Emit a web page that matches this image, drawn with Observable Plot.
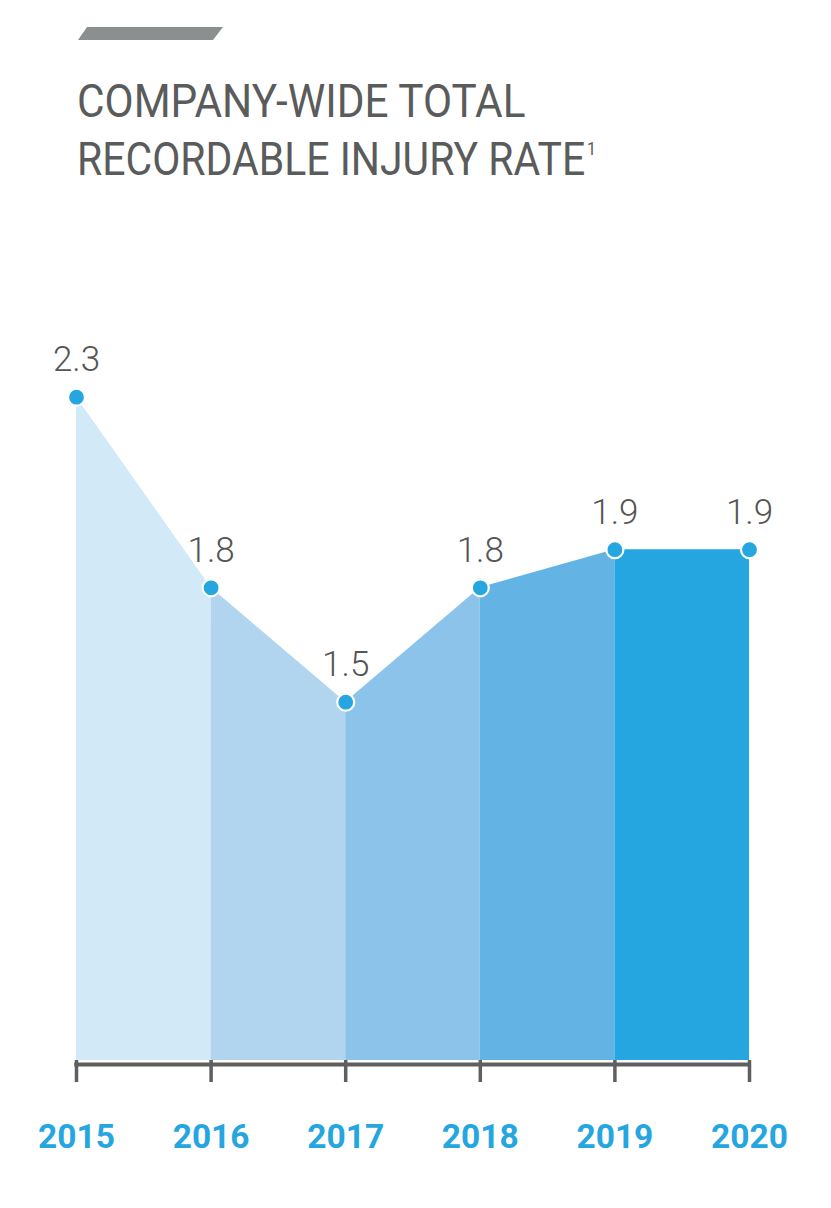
<!DOCTYPE html>
<html>
<head>
<meta charset="utf-8">
<script src="https://cdn.jsdelivr.net/npm/d3@7"></script>
<script src="https://cdn.jsdelivr.net/npm/@observablehq/plot@0.6"></script>
<style>
  html, body { margin: 0; padding: 0; background: #fff; }
  #page { width: 831px; position: relative; }
  #head { position: relative; height: 200px; }
  #bar { position: absolute; left: 78px; top: 27px; width: 145px; height: 13px; background: #8c8f8f;
         clip-path: polygon(9px 0, 145px 0, 135px 13px, 0 13px); }
  .tl { position: absolute; left: 77px; font-family: Roboto, sans-serif; font-size: 46px; color: #5a5b5b;
        white-space: nowrap; transform-origin: 0 0; transform: scaleX(0.9); line-height: 1; }
  .tl sup { font-size: 18px; vertical-align: 20px; margin-left: 2px; }
</style>
</head>
<body>
<div id="page">
  <div id="head">
    <div id="bar"></div>
    <div class="tl" style="top:78px; transform: scaleX(0.92)">COMPANY-WIDE TOTAL</div>
    <div class="tl" style="top:136px; transform: scaleX(0.89)">RECORDABLE INJURY RATE<sup>1</sup></div>
  </div>
  <div id="chart"></div>
</div>
<script>
const years = [2015, 2016, 2017, 2018, 2019, 2020];
const values = [2.3, 1.8, 1.5, 1.8, 1.9, 1.9];
const segmentColors = ["#d2e9f8", "#b1d4ef", "#8cc3ea", "#63b4e4", "#25a6e0"];

const yBase = 0.56;
const data = years.map((year, i) => ({year, value: values[i]}));
const segments = segmentColors.map((c, i) => [data[i], data[i + 1]]);

const plot = Plot.plot({
  width: 831,
  height: 1008,
  marginLeft: 76,
  marginRight: 82,
  marginTop: 0,
  marginBottom: 148,
  x: {domain: [2015, 2020], axis: null},
  y: {domain: [yBase, 2.816], axis: null},
  marks: [
    ...segments.map((seg, i) => Plot.areaY(seg, {
      x: "year", y1: () => yBase, y2: "value", fill: segmentColors[i], curve: "linear"
    })),
    Plot.axisX({ticks: years, tickSize: 22, stroke: "#5f5f5f", strokeWidth: 3.5, tickFormat: () => "", label: null, anchor: "bottom"}),
    Plot.ruleY([yBase], {x1: 2015, x2: 2020, stroke: "#5f5f5f", strokeWidth: 4, dy: 4, insetLeft: -1.75, insetRight: -1.75}),
    Plot.dot(data, {x: "year", y: "value", r: 8.5, fill: "#25a6e0", stroke: "#fff", strokeWidth: 2.2}),
    Plot.text(data, {x: "year", y: "value", text: d => d.value.toFixed(1), dy: -37, fontSize: 35,
      fontFamily: "Roboto, sans-serif", fontWeight: 300, fill: "#555", lineAnchor: "middle"}),
    Plot.text(years, {x: d => d, y: () => yBase, text: d => String(d), dy: 77, fontSize: 33.5,
      fontFamily: "Roboto, sans-serif", fontWeight: 700, fill: "#25a6e0", lineAnchor: "middle"})
  ]
});
plot.style.display = "block";
document.getElementById("chart").appendChild(plot);
</script>
</body>
</html>
